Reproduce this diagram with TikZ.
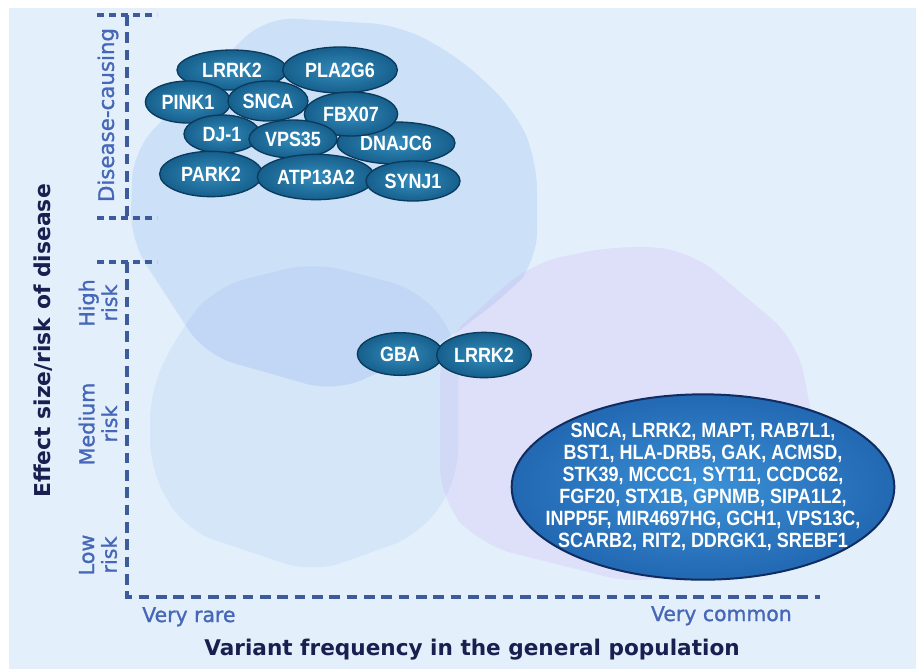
\documentclass[tikz,border=0pt]{standalone}
\usepackage{fontspec}
\setmainfont{DejaVu Sans}
\newfontfamily\genefont[FakeStretch=0.87]{Liberation Sans Bold}
\newfontfamily\labelfont[FakeBold=1.2]{DejaVu Sans}
\usetikzlibrary{shapes.geometric,positioning}

\definecolor{bgblue}{RGB}{227,240,252}
\definecolor{blobblue}{RGB}{100,150,230}
\definecolor{blobpurple}{RGB}{205,180,240}
\definecolor{axisblue}{RGB}{61,90,155}
\definecolor{labelblue}{RGB}{70,103,183}
\definecolor{titlenavy}{RGB}{23,32,79}
\definecolor{genein}{RGB}{52,140,188}
\definecolor{geneout}{RGB}{22,95,140}
\definecolor{geneedge}{RGB}{10,58,92}
\definecolor{bigin}{RGB}{60,145,215}
\definecolor{bigout}{RGB}{34,104,178}
\definecolor{bigedge}{RGB}{16,44,96}

\tikzset{
  gene/.style={ellipse, draw=geneedge, line width=1pt, inner sep=0pt, shade,
    inner color=genein, outer color=geneout, text=white,
    font=\genefont\fontsize{15.5}{17}\selectfont},
  axisline/.style={draw=axisblue, line width=2.5pt, dash pattern=on 8pt off 5pt},
  ticktop/.style={draw=axisblue, line width=2.5pt, dash pattern=on 5pt off 4pt},
  risklabel/.style={text=labelblue, align=center, rotate=90,
    font=\labelfont\fontsize{15.5}{17}\selectfont}
}

\begin{document}
\begin{tikzpicture}[x=0.75pt,y=-0.75pt]
\useasboundingbox (0,0) rectangle (916,669);
\fill[white] (0,0) rectangle (916,669);
\fill[bgblue] (9,8) rectangle (916,669);

% soft regions behind the genes
\fill[blobblue, opacity=0.11, rounded corners=22pt] (313,262) -- (420,290) -- (458,340) -- (458,480) -- (420,535) -- (313,573) -- (185,530) -- (150,470) -- (150,390) -- (180,330) -- (215,287) -- cycle;
\fill[blobblue, opacity=0.175, rounded corners=22pt] (265,17) -- (400,25) -- (460,58) -- (515,110) -- (537,160) -- (537,262) -- (510,292) -- (440,345) -- (335,392) -- (205,355) -- (130,240) -- (133,150) -- cycle;
\fill[blobpurple, opacity=0.26, rounded corners=25pt] (530,263) -- (620,245) -- (690,250) -- (797,340) -- (818,447) -- (790,540) -- (640,585) -- (480,545) -- (440,500) -- (440,345) -- cycle;

% axes
\coordinate (dctop) at (127,15);
\coordinate (dcbot) at (127,218);
\coordinate (ytop) at (127,262);
\coordinate (origin) at (127,597);
\coordinate (xend) at (820,597);
\draw[axisline] (dctop) -- (dcbot);
\draw[axisline] (ytop) -- (origin) -- (xend);
\draw[ticktop] (97,15) -- (157,15);
\draw[ticktop] (97,218) -- (157,218);
\draw[ticktop] (97,262) -- (157,262);

% axis labels
\node[risklabel, font=\labelfont\fontsize{16}{18}\selectfont] (dcause) at (108,115) {Disease-causing};
\node[risklabel] (high) at (98,303) {High\\risk};
\node[risklabel] (medium) at (98,424) {Medium\\risk};
\node[risklabel] (low) at (98,555) {Low\\risk};
\node[text=labelblue, anchor=base west, inner sep=0pt, font=\labelfont\fontsize{15.3}{17}\selectfont] (rare) at (142,622) {Very rare};
\node[text=labelblue, anchor=base east, inner sep=0pt, font=\labelfont\fontsize{15.3}{17}\selectfont] (common) at (792,621) {Very common};
\node[text=titlenavy, anchor=base, inner sep=0pt, font=\bfseries\fontsize{16.2}{18}\selectfont] (xtitle) at (472,655) {Variant frequency in the general population};
\node[text=titlenavy, anchor=base, inner sep=0pt, rotate=90, font=\bfseries\fontsize{16.4}{18}\selectfont] (ytitle) at (50,341) {Effect size/risk of disease};

% disease-causing genes
\node[gene, minimum width=82.5pt, minimum height=30pt] (lrrk) at (232,70) {LRRK2};
\node[gene, minimum width=86pt, minimum height=34.5pt] (pla) at (340,70) {PLA2G6};
\node[gene, minimum width=64pt, minimum height=31.5pt] (pink) at (188,102) {PINK1};
\node[gene, minimum width=60pt, minimum height=30pt] (snca) at (268,101) {SNCA};
\node[gene, minimum width=88.5pt, minimum height=31.5pt] (dnaj) at (396,143) {DNAJC6};
\node[gene, minimum width=70pt, minimum height=33pt] (fbx) at (351,114) {FBX07};
\node[gene, minimum width=57pt, minimum height=28.5pt] (dj) at (222,134) {DJ-1};
\node[gene, minimum width=66pt, minimum height=28.5pt] (vps) at (293,139) {VPS35};
\node[gene, minimum width=77pt, minimum height=34pt] (park) at (211,174) {PARK2};
\node[gene, minimum width=88pt, minimum height=34pt] (atp) at (316,177) {ATP13A2};
\node[gene, minimum width=70.5pt, minimum height=30pt] (synj) at (413,181) {SYNJ1};

% high-risk genes
\node[gene, minimum width=64pt, minimum height=32pt] (gba) at (400,354) {GBA};
\node[gene, minimum width=71pt, minimum height=34pt] (lrrkrisk) at (484,355) {LRRK2};

% common low-risk variants
\node[ellipse, draw=bigedge, line width=1.5pt, shade, inner color=bigin, outer color=bigout,
  text=white, align=center, inner xsep=-40pt, inner ysep=-15pt,
  minimum width=287pt, minimum height=139pt,
  font=\genefont\fontsize{15.5}{16.5}\selectfont] (lowrisk) at (703,487)
  {SNCA, LRRK2, MAPT, RAB7L1,\\BST1, HLA-DRB5, GAK, ACMSD,\\STK39, MCCC1, SYT11, CCDC62,\\FGF20, STX1B, GPNMB, SIPA1L2,\\INPP5F, MIR4697HG, GCH1, VPS13C,\\SCARB2, RIT2, DDRGK1, SREBF1};
\end{tikzpicture}
\end{document}
